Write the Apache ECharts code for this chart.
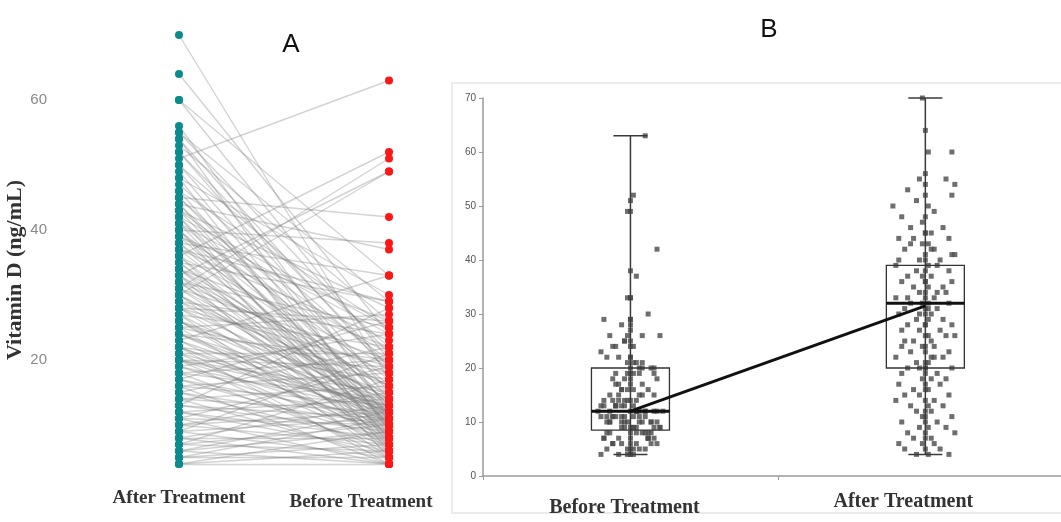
<!DOCTYPE html>
<html>
<head>
<meta charset="utf-8">
<script src="https://cdn.jsdelivr.net/npm/echarts@6/dist/echarts.min.js"></script>
<style>html,body{margin:0;padding:0;background:#fff;}#chart{width:1061px;height:522px;}</style>
</head>
<body>
<div id="chart"></div>
<script>
// ---------- data ----------
const categoriesA = ['After Treatment', 'Before Treatment'];
const categoriesB = ['Before Treatment', 'After Treatment'];
const yTicksA = [20, 40, 60];
const yTitle = 'Vitamin D (ng/mL)';

// paired patient values (ng/mL)
const afterVals = [
  70,64,60,60,56,55,55,54,54,53,
  52,52,51,50,50,49,48,48,47,46,
  46,45,45,44,44,44,43,43,42,42,
  41,41,40,40,40,40,39,39,39,38,
  38,38,37,37,36,36,36,35,35,35,
  34,34,34,33,33,33,32,32,32,32,
  31,31,31,30,30,30,29,29,29,28,
  28,28,27,27,27,26,26,26,25,25,
  25,24,24,24,23,23,23,22,22,22,
  21,21,21,20,20,20,20,19,19,19,
  18,18,18,17,17,17,16,16,16,15,
  15,15,14,14,14,13,13,13,12,12,
  12,11,11,11,10,10,10,9,9,9,
  8,8,8,7,7,7,6,6,6,5,
  5,5,4,4,4,45,43,42,41,37,
  36,34,33,31,30,28,26,24,22,20
];
const beforeVals = [
  17,24,20,33,12,29,21,18,9,26,
  15,19,63,14,22,11,30,7,19,25,
  10,42,16,37,13,8,20,28,12,6,
  24,17,10,38,14,5,21,11,26,9,
  33,15,12,23,7,19,52,13,10,29,
  16,8,22,12,49,6,18,11,25,9,
  14,51,20,7,12,49,16,10,24,8,
  13,19,11,5,22,12,15,9,18,6,
  27,10,14,20,8,12,33,17,11,4,
  21,13,7,19,10,15,5,12,24,9,
  14,6,20,11,8,26,13,4,18,10,
  7,22,12,5,16,9,11,28,6,14,
  8,10,4,19,12,7,15,5,11,21,
  8,13,4,10,6,17,9,4,12,7,
  11,5,4,6,9,13,10,25,8,29,
  11,12,16,10,14,26,7,12,9,13
];
// horizontal jitter of the dots in panel B (hundredths of a category)
const jitterBefore = [
  0,-6,4,-1,8,-9,2,0,-3,10,
  -7,1,5,-2,0,-10,6,-4,3,0,
  -8,9,-1,2,-5,7,0,-3,11,-6,
  1,4,-2,0,-9,5,-1,3,-7,8,
  0,-4,2,-10,6,-1,1,-5,9,0,
  -3,4,-8,2,0,7,-6,1,-2,10,
  -4,0,3,-9,5,-1,6,-7,0,2,
  -3,8,-5,1,0,-11,4,-2,9,-6,
  0,3,-1,7,-8,2,0,-4,5,-10,
  1,-2,6,0,-7,3,-1,9,-5,0,
  2,-3,8,-6,0,4,-9,1,-2,7,
  0,-4,5,-8,1,10,-3,0,2,-6,
  6,-1,0,-5,3,-9,8,0,-2,4,
  -7,1,0,-3,9,-5,2,-1,0,6,
  -8,3,-4,0,1,-10,7,-2,5,0,
  -6,2,-3,4,0,-1,8,-7,1,-5
];
const jitterAfter = [
  -1,0,1,9,0,-2,7,0,10,-6,
  0,9,-3,-11,1,3,0,-8,-1,6,
  -5,2,0,-9,-4,8,1,-1,-7,3,
  0,10,-2,0,-9,5,1,-10,4,0,
  -3,8,-6,2,0,-8,9,1,-4,6,
  0,-2,7,-10,0,3,-5,1,8,-1,
  0,-7,4,2,-9,0,6,-3,1,-6,
  9,0,-2,5,-8,1,0,10,-4,2,
  -7,0,3,-1,8,-5,0,2,-10,6,
  -3,0,1,-6,9,0,-2,4,-8,0,
  7,-1,2,-9,0,5,-4,1,0,-7,
  8,-2,0,3,-10,1,6,-5,0,2,
  -3,9,0,-1,4,-8,0,7,-2,1,
  -6,0,10,-4,2,0,-9,3,-1,5,
  0,-7,1,8,-3,0,-5,2,9,-1,
  0,4,-6,1,-2,0,7,-8,3,0
];
// box stats: [min, Q1, median, Q3, max]
const boxBefore = [4, 8.5, 12, 20, 63];
const boxAfter  = [4, 20, 32, 39, 70];
const centreLine = [12, 31.5];

// ---------- chart ----------
const chart = echarts.init(document.getElementById('chart'), null, {renderer: 'canvas'});
const serif = '"Liberation Serif", "DejaVu Serif", serif';
const sans = '"Liberation Sans", Arial, sans-serif';

function renderBox(params, api) {
  const x = api.value(0);
  const low = api.coord([x, api.value(1)]);
  const q1 = api.coord([x, api.value(2)]);
  const med = api.coord([x, api.value(3)]);
  const q3 = api.coord([x, api.value(4)]);
  const high = api.coord([x, api.value(5)]);
  const cx = low[0], hw = 39, cw = 17;
  const st = {stroke: '#3a3a3a', lineWidth: 1.5, fill: 'none'};
  return {type: 'group', children: [
    {type: 'line', shape: {x1: cx, y1: high[1], x2: cx, y2: low[1]}, style: st},
    {type: 'line', shape: {x1: cx - cw, y1: high[1], x2: cx + cw, y2: high[1]}, style: st},
    {type: 'line', shape: {x1: cx - cw, y1: low[1], x2: cx + cw, y2: low[1]}, style: st},
    {type: 'rect', shape: {x: cx - hw, y: q3[1], width: 2 * hw, height: q1[1] - q3[1]}, style: {stroke: '#333', lineWidth: 1.3, fill: 'none'}},
    {type: 'line', shape: {x1: cx - hw, y1: med[1], x2: cx + hw, y2: med[1]}, style: {stroke: '#111', lineWidth: 3}}
  ]};
}

const option = {
  backgroundColor: '#fff',
  animation: false,
  graphic: [
    {type: 'rect', shape: {x: 452, y: 83, width: 612, height: 430}, style: {fill: 'none', stroke: '#ebebeb', lineWidth: 2}, z: -1},
    {type: 'text', x: 291, y: 45, style: {text: 'A', font: '26px ' + sans, fill: '#111', align: 'center', verticalAlign: 'middle'}},
    {type: 'text', x: 769, y: 30, style: {text: 'B', font: '26px ' + sans, fill: '#111', align: 'center', verticalAlign: 'middle'}}
  ],
  grid: [
    {left: 179, width: 210, top: 35, height: 455},
    {left: 483, right: 0, top: 98, height: 378}
  ],
  xAxis: [
    {
      gridIndex: 0, type: 'category', data: categoriesA, boundaryGap: false,
      axisLine: {show: false}, axisTick: {show: false}, splitLine: {show: false},
      axisLabel: {
        interval: 0, margin: -1,
        formatter: (v, i) => i === 1 ? '{b|' + v + '}' : '{a|' + v + '}',
        rich: {
          a: {fontFamily: serif, fontWeight: 'bold', fontSize: 19, color: '#333'},
          b: {fontFamily: serif, fontWeight: 'bold', fontSize: 19, color: '#333', padding: [4, 56, 0, 0]}
        }
      }
    },
    {
      gridIndex: 1, type: 'value', min: 0.5, max: 2.46, interval: 1,
      axisLine: {show: true, lineStyle: {color: '#9a9a9a', width: 1.5}},
      axisTick: {show: true, length: 4, lineStyle: {color: '#9a9a9a'}},
      splitLine: {show: false},
      axisLabel: {
        customValues: [1, 2], margin: 16,
        formatter: v => v === 1 ? '{b|' + categoriesB[0] + '}' : '{a|' + categoriesB[1] + '}',
        rich: {
          a: {fontFamily: serif, fontWeight: 'bold', fontSize: 20, color: '#333', padding: [0, 44, 0, 0]},
          b: {fontFamily: serif, fontWeight: 'bold', fontSize: 20, color: '#333', padding: [6, 12, 0, 0]}
        }
      }
    }
  ],
  yAxis: [
    {
      gridIndex: 0, type: 'value', min: 0, max: 70, interval: 10,
      name: yTitle, nameLocation: 'middle', nameRotate: 90, nameGap: 142,
      nameTextStyle: {fontFamily: serif, fontWeight: 'bold', fontSize: 22, color: '#333', padding: [0, 15, 0, 0]},
      axisLine: {show: false}, axisTick: {show: false}, splitLine: {show: false},
      axisLabel: {
        margin: 132, fontFamily: sans, fontSize: 15, color: '#8a8a8a',
        formatter: v => yTicksA.includes(v) ? String(v) : ''
      }
    },
    {
      gridIndex: 1, type: 'value', min: 0, max: 70, interval: 10,
      axisLine: {show: true, lineStyle: {color: '#9a9a9a', width: 1.5}},
      axisTick: {show: true, length: 4, lineStyle: {color: '#9a9a9a'}},
      splitLine: {show: false},
      axisLabel: {margin: 7, fontFamily: sans, fontSize: 10, color: '#555'}
    }
  ],
  series: [
    {
      type: 'lines', coordinateSystem: 'cartesian2d', xAxisIndex: 0, yAxisIndex: 0,
      silent: true, z: 1,
      lineStyle: {color: '#7a7a7a', opacity: 0.33, width: 1.4},
      data: afterVals.map((a, i) => ({coords: [[0, a], [1, beforeVals[i]]]}))
    },
    {
      type: 'scatter', xAxisIndex: 0, yAxisIndex: 0, z: 3, symbolSize: 8,
      itemStyle: {color: '#0b8b8d', opacity: 1},
      data: afterVals.map(v => [0, v])
    },
    {
      type: 'scatter', xAxisIndex: 0, yAxisIndex: 0, z: 3, symbolSize: 8,
      itemStyle: {color: '#ff1616', opacity: 1},
      data: beforeVals.map(v => [1, v])
    },
    {
      type: 'scatter', xAxisIndex: 1, yAxisIndex: 1, z: 2, symbol: 'rect', symbolSize: 5,
      itemStyle: {color: '#4a4a4a'},
      data: beforeVals.map((v, i) => [1 + (jitterBefore[i] || 0) / 100, v])
    },
    {
      type: 'scatter', xAxisIndex: 1, yAxisIndex: 1, z: 2, symbol: 'rect', symbolSize: 5,
      itemStyle: {color: '#4a4a4a'},
      data: afterVals.map((v, i) => [2 + (jitterAfter[i] || 0) / 100, v])
    },
    {
      type: 'custom', xAxisIndex: 1, yAxisIndex: 1, z: 4, silent: true,
      renderItem: renderBox,
      encode: {x: 0, y: [1, 2, 3, 4, 5]},
      data: [[1].concat(boxBefore), [2].concat(boxAfter)]
    },
    {
      type: 'line', xAxisIndex: 1, yAxisIndex: 1, z: 5, symbol: 'none', silent: true,
      lineStyle: {color: '#111', width: 3},
      data: [[1, centreLine[0]], [2, centreLine[1]]]
    }
  ]
};
chart.setOption(option);
</script>
</body>
</html>
